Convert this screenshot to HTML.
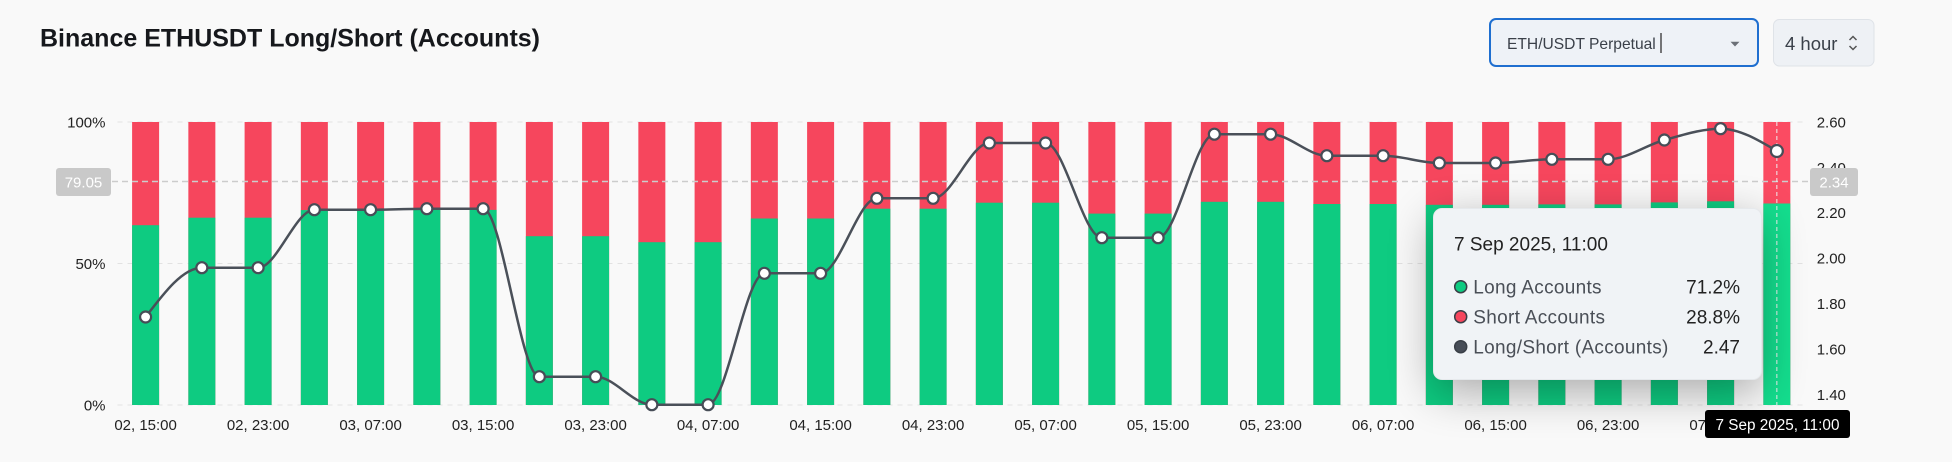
<!DOCTYPE html>
<html><head><meta charset="utf-8">
<style>
html,body{margin:0;padding:0;}
body{width:1952px;height:462px;overflow:hidden;background:#f9f9f9;position:relative;font-family:"Liberation Sans",sans-serif;}
svg{position:absolute;left:0;top:0;}
#tip{position:absolute;left:1433px;top:208px;width:329px;height:172px;background:#f0f3f6;border-radius:9px;box-shadow:0 12px 44px rgba(0,0,0,0.32);border:1px solid rgba(0,0,0,0.04);box-sizing:border-box;}
</style></head>
<body>
<svg width="1952" height="462" viewBox="0 0 1952 462" font-family="Liberation Sans, sans-serif">
  <!-- title -->
  <text x="40" y="46.7" font-size="25" font-weight="bold" fill="#16181c">Binance ETHUSDT Long/Short (Accounts)</text>
  <!-- dropdown -->
  <rect x="1490" y="19" width="268" height="47" rx="6" fill="#eef2f7" stroke="#1f6fd0" stroke-width="2"/>
  <text x="1507" y="49" font-size="15.6" fill="#3a4049">ETH/USDT Perpetual</text>
  <line x1="1661" y1="33" x2="1661" y2="53" stroke="#222" stroke-width="1.2"/>
  <polygon points="1730.5,41.7 1739.5,41.7 1735,46.5" fill="#6b7077"/>
  <!-- interval -->
  <rect x="1773.5" y="19.5" width="100.5" height="46.5" rx="6" fill="#eef1f5" stroke="#dfe3e8"/>
  <text x="1785" y="50" font-size="18.5" fill="#3a4049">4 hour</text>
  <polyline points="1849.5,40 1853,36.5 1856.5,40" fill="none" stroke="#555" stroke-width="1.5"/>
  <polyline points="1849.5,46 1853,49.5 1856.5,46" fill="none" stroke="#555" stroke-width="1.5"/>

  <!-- grid -->
  <g stroke="#e2e2e2" stroke-width="1" stroke-dasharray="5,5">
    <line x1="117.5" y1="122" x2="1805" y2="122"/>
    <line x1="117.5" y1="263.5" x2="1805" y2="263.5"/>
    <line x1="117.5" y1="405" x2="1805" y2="405"/>
  </g>

  <!-- left axis -->
  <g font-size="15" fill="#222" text-anchor="end">
    <text x="105.5" y="127.3">100%</text>
    <text x="105.5" y="268.9">50%</text>
    <text x="105.5" y="410.5">0%</text>
  </g>
  <!-- right axis -->
  <g font-size="15" fill="#222">
    <text x="1816.7" y="127.4">2.60</text>
    <text x="1816.7" y="172.8">2.40</text>
    <text x="1816.7" y="218.2">2.20</text>
    <text x="1816.7" y="263.6">2.00</text>
    <text x="1816.7" y="309">1.80</text>
    <text x="1816.7" y="354.4">1.60</text>
    <text x="1816.7" y="399.8">1.40</text>
  </g>

  <!-- bars: red full, green overlay -->
  <g fill="#f6465d">
    <rect x="132.1" y="122" width="27" height="283"/>
    <rect x="188.35" y="122" width="27" height="283"/>
    <rect x="244.6" y="122" width="27" height="283"/>
    <rect x="300.85" y="122" width="27" height="283"/>
    <rect x="357.1" y="122" width="27" height="283"/>
    <rect x="413.35" y="122" width="27" height="283"/>
    <rect x="469.6" y="122" width="27" height="283"/>
    <rect x="525.85" y="122" width="27" height="283"/>
    <rect x="582.1" y="122" width="27" height="283"/>
    <rect x="638.35" y="122" width="27" height="283"/>
    <rect x="694.6" y="122" width="27" height="283"/>
    <rect x="750.85" y="122" width="27" height="283"/>
    <rect x="807.1" y="122" width="27" height="283"/>
    <rect x="863.35" y="122" width="27" height="283"/>
    <rect x="919.6" y="122" width="27" height="283"/>
    <rect x="975.85" y="122" width="27" height="283"/>
    <rect x="1032.1" y="122" width="27" height="283"/>
    <rect x="1088.35" y="122" width="27" height="283"/>
    <rect x="1144.6" y="122" width="27" height="283"/>
    <rect x="1200.85" y="122" width="27" height="283"/>
    <rect x="1257.1" y="122" width="27" height="283"/>
    <rect x="1313.35" y="122" width="27" height="283"/>
    <rect x="1369.6" y="122" width="27" height="283"/>
    <rect x="1425.85" y="122" width="27" height="283"/>
    <rect x="1482.1" y="122" width="27" height="283"/>
    <rect x="1538.35" y="122" width="27" height="283"/>
    <rect x="1594.6" y="122" width="27" height="283"/>
    <rect x="1650.85" y="122" width="27" height="283"/>
    <rect x="1707.1" y="122" width="27" height="283"/>
    <rect x="1763.35" y="122" width="27" height="283" fill="#fb4b62"/>
  </g>
  <g fill="#0ecb81">
    <rect x="132.1" y="225.2" width="27" height="179.8"/>
    <rect x="188.35" y="217.7" width="27" height="187.3"/>
    <rect x="244.6" y="217.7" width="27" height="187.3"/>
    <rect x="300.85" y="210.1" width="27" height="194.9"/>
    <rect x="357.1" y="210.1" width="27" height="194.9"/>
    <rect x="413.35" y="209.9" width="27" height="195.1"/>
    <rect x="469.6" y="209.9" width="27" height="195.1"/>
    <rect x="525.85" y="236.2" width="27" height="168.8"/>
    <rect x="582.1" y="236.2" width="27" height="168.8"/>
    <rect x="638.35" y="242.2" width="27" height="162.8"/>
    <rect x="694.6" y="242.2" width="27" height="162.8"/>
    <rect x="750.85" y="218.5" width="27" height="186.5"/>
    <rect x="807.1" y="218.5" width="27" height="186.5"/>
    <rect x="863.35" y="208.7" width="27" height="196.3"/>
    <rect x="919.6" y="208.7" width="27" height="196.3"/>
    <rect x="975.85" y="202.7" width="27" height="202.3"/>
    <rect x="1032.1" y="202.7" width="27" height="202.3"/>
    <rect x="1088.35" y="213.6" width="27" height="191.4"/>
    <rect x="1144.6" y="213.6" width="27" height="191.4"/>
    <rect x="1200.85" y="201.8" width="27" height="203.2"/>
    <rect x="1257.1" y="201.8" width="27" height="203.2"/>
    <rect x="1313.35" y="204" width="27" height="201"/>
    <rect x="1369.6" y="204" width="27" height="201"/>
    <rect x="1425.85" y="204.8" width="27" height="200.2"/>
    <rect x="1482.1" y="204.8" width="27" height="200.2"/>
    <rect x="1538.35" y="204.4" width="27" height="200.6"/>
    <rect x="1594.6" y="204.4" width="27" height="200.6"/>
    <rect x="1650.85" y="202.4" width="27" height="202.6"/>
    <rect x="1707.1" y="201.3" width="27" height="203.7"/>
    <rect x="1763.35" y="203.5" width="27" height="201.5" fill="#14de8e"/>
  </g>

  <!-- crosshairs -->
  <line x1="112" y1="181.5" x2="1810" y2="181.5" stroke="#cccccc" stroke-width="1.5" stroke-dasharray="6,4"/>
  <line x1="1776.85" y1="122" x2="1776.85" y2="406" stroke="#eeeeee" stroke-width="1" stroke-dasharray="4,3"/>
  <rect x="56" y="168" width="55" height="28" rx="3" fill="#c9c9c9"/>
  <text x="83.5" y="187.5" font-size="15" fill="#fff" text-anchor="middle">79.05</text>
  <rect x="1810" y="168" width="48" height="28" rx="3" fill="#c9c9c9"/>
  <text x="1834" y="187.5" font-size="15" fill="#fff" text-anchor="middle">2.34</text>

  <!-- ratio line -->
  <path fill="none" stroke="#4a5059" stroke-width="2.5" d="M145.6,317 C164.35,292.35 183.1,267.7 201.85,267.7 L258.1,267.7 C276.85,267.7 295.6,209.7 314.35,209.7 L370.6,209.7 C389.35,209.7 408.1,208.7 426.85,208.7 L483.1,208.7 C501.85,208.7 520.6,376.7 539.35,376.7 L595.6,376.7 C614.35,376.7 633.1,404.7 651.85,404.7 L708.1,404.7 C726.85,404.7 745.6,273.3 764.35,273.3 L820.6,273.3 C839.35,273.3 858.1,198.3 876.85,198.3 L933.1,198.3 C951.85,198.3 970.6,143 989.35,143 L1045.6,143 C1064.35,143 1083.1,237.7 1101.85,237.7 L1158.1,237.7 C1176.85,237.7 1195.6,134.2 1214.35,134.2 L1270.6,134.2 C1289.35,134.2 1308.1,155.7 1326.85,155.7 L1383.1,155.7 C1401.85,155.7 1420.6,163 1439.35,163 L1495.6,163 C1514.35,163 1533.1,159.3 1551.85,159.3 L1608.1,159.3 C1626.85,159.3 1645.6,145.1 1664.35,140 C1683.1,134.9 1701.85,128.7 1720.6,128.7 C1739.35,128.7 1758.1,139.85 1776.85,151"/>
  <g fill="#fff" stroke="#474d57" stroke-width="2.2">
    <circle cx="145.6" cy="317" r="5.5"/>
    <circle cx="201.85" cy="267.7" r="5.5"/>
    <circle cx="258.1" cy="267.7" r="5.5"/>
    <circle cx="314.35" cy="209.7" r="5.5"/>
    <circle cx="370.6" cy="209.7" r="5.5"/>
    <circle cx="426.85" cy="208.7" r="5.5"/>
    <circle cx="483.1" cy="208.7" r="5.5"/>
    <circle cx="539.35" cy="376.7" r="5.5"/>
    <circle cx="595.6" cy="376.7" r="5.5"/>
    <circle cx="651.85" cy="404.7" r="5.5"/>
    <circle cx="708.1" cy="404.7" r="5.5"/>
    <circle cx="764.35" cy="273.3" r="5.5"/>
    <circle cx="820.6" cy="273.3" r="5.5"/>
    <circle cx="876.85" cy="198.3" r="5.5"/>
    <circle cx="933.1" cy="198.3" r="5.5"/>
    <circle cx="989.35" cy="143" r="5.5"/>
    <circle cx="1045.6" cy="143" r="5.5"/>
    <circle cx="1101.85" cy="237.7" r="5.5"/>
    <circle cx="1158.1" cy="237.7" r="5.5"/>
    <circle cx="1214.35" cy="134.2" r="5.5"/>
    <circle cx="1270.6" cy="134.2" r="5.5"/>
    <circle cx="1326.85" cy="155.7" r="5.5"/>
    <circle cx="1383.1" cy="155.7" r="5.5"/>
    <circle cx="1439.35" cy="163" r="5.5"/>
    <circle cx="1495.6" cy="163" r="5.5"/>
    <circle cx="1551.85" cy="159.3" r="5.5"/>
    <circle cx="1608.1" cy="159.3" r="5.5"/>
    <circle cx="1664.35" cy="140" r="5.5"/>
    <circle cx="1720.6" cy="128.7" r="5.5"/>
    <circle cx="1776.85" cy="151" r="6"/>
  </g>

  <!-- x labels -->
  <g font-size="15" fill="#222" text-anchor="middle">
    <text x="145.6" y="430">02, 15:00</text>
    <text x="258.1" y="430">02, 23:00</text>
    <text x="370.6" y="430">03, 07:00</text>
    <text x="483.1" y="430">03, 15:00</text>
    <text x="595.6" y="430">03, 23:00</text>
    <text x="708.1" y="430">04, 07:00</text>
    <text x="820.6" y="430">04, 15:00</text>
    <text x="933.1" y="430">04, 23:00</text>
    <text x="1045.6" y="430">05, 07:00</text>
    <text x="1158.1" y="430">05, 15:00</text>
    <text x="1270.6" y="430">05, 23:00</text>
    <text x="1383.1" y="430">06, 07:00</text>
    <text x="1495.6" y="430">06, 15:00</text>
    <text x="1608.1" y="430">06, 23:00</text>
    <text x="1720.6" y="430">07, 07:00</text>
  </g>
</svg>

<div id="tip"></div>

<svg width="1952" height="462" viewBox="0 0 1952 462" font-family="Liberation Sans, sans-serif">
  <text x="1454" y="250.7" font-size="19" fill="#222">7 Sep 2025, 11:00</text>
  <circle cx="1460.7" cy="286.7" r="6" fill="#0ecb81" stroke="#3a3f47" stroke-width="1.5"/>
  <circle cx="1460.7" cy="316.7" r="6" fill="#f6465d" stroke="#3a3f47" stroke-width="1.5"/>
  <circle cx="1460.7" cy="346.7" r="6" fill="#474d57" stroke="#3a3f47" stroke-width="1.5"/>
  <g font-size="19" fill="#4a4f57" letter-spacing="0.3">
    <text x="1473.3" y="293.3">Long Accounts</text>
    <text x="1473.3" y="323.3">Short Accounts</text>
    <text x="1473.3" y="353.3">Long/Short (Accounts)</text>
  </g>
  <g font-size="19" fill="#222" text-anchor="end">
    <text x="1740" y="293.3">71.2%</text>
    <text x="1740" y="323.3">28.8%</text>
    <text x="1740" y="353.3">2.47</text>
  </g>
  <rect x="1705" y="410" width="145" height="28" rx="3" fill="#000"/>
  <text x="1777.5" y="430" font-size="15.3" fill="#fff" text-anchor="middle">7 Sep 2025, 11:00</text>
</svg>
</body></html>
